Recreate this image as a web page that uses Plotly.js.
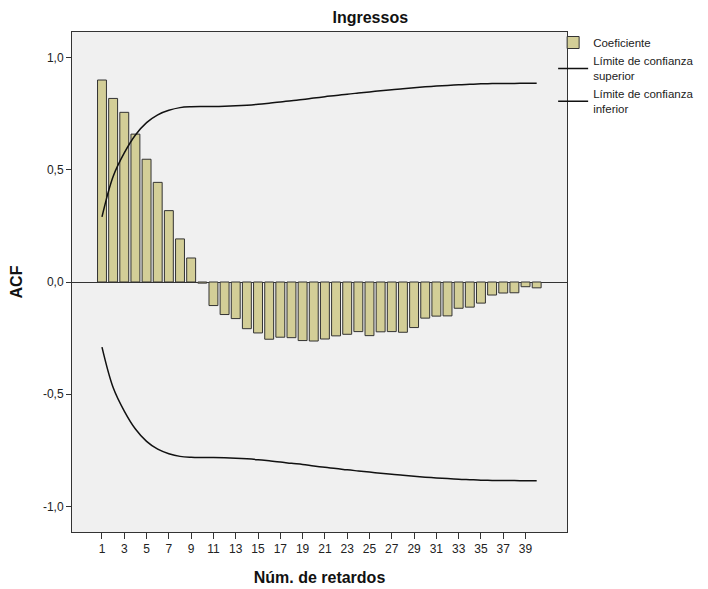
<!DOCTYPE html>
<html>
<head>
<meta charset="utf-8">
<script src="https://cdn.plot.ly/plotly-3.0.1.min.js"></script>
<style>html,body{margin:0;padding:0;background:#fff}#chart{width:708px;height:589px}</style>
</head>
<body>
<div id="chart"></div>
<script>
var lags = [1,2,3,4,5,6,7,8,9,10,11,12,13,14,15,16,17,18,19,20,21,22,23,24,25,26,27,28,29,30,31,32,33,34,35,36,37,38,39,40];
var coeficiente = [0.900,0.818,0.756,0.659,0.547,0.444,0.318,0.192,0.107,-0.005,
  -0.105,-0.145,-0.163,-0.208,-0.227,-0.255,-0.246,-0.248,-0.261,-0.263,
  -0.254,-0.240,-0.233,-0.221,-0.239,-0.222,-0.221,-0.224,-0.203,-0.161,
  -0.152,-0.151,-0.117,-0.112,-0.094,-0.058,-0.049,-0.048,-0.021,-0.026];
var limiteSuperior = [0.290,0.470,0.575,0.655,0.710,0.745,0.765,0.777,0.781,0.782,
  0.782,0.783,0.785,0.788,0.792,0.797,0.802,0.808,0.813,0.820,
  0.826,0.831,0.837,0.842,0.847,0.852,0.857,0.861,0.866,0.870,
  0.873,0.876,0.879,0.881,0.883,0.884,0.885,0.885,0.886,0.886];
var limiteInferior = [-0.290,-0.470,-0.575,-0.655,-0.710,-0.745,-0.765,-0.777,-0.781,-0.782,
  -0.782,-0.783,-0.785,-0.788,-0.792,-0.797,-0.802,-0.808,-0.813,-0.820,
  -0.826,-0.831,-0.837,-0.842,-0.847,-0.852,-0.857,-0.861,-0.866,-0.870,
  -0.873,-0.876,-0.879,-0.881,-0.883,-0.884,-0.885,-0.885,-0.886,-0.886];
var xTicks = [1,3,5,7,9,11,13,15,17,19,21,23,25,27,29,31,33,35,37,39];
var yTicks = [-1,-0.5,0,0.5,1];
var yTickText = ['-1,0','-0,5','0,0','0,5','1,0'];

var font = "'Liberation Sans', Arial, sans-serif";
var narrow = "'Liberation Sans Narrow', 'Arial Narrow', 'Liberation Sans', Arial, sans-serif";

var traces = [
  {type:'bar', x:lags, y:coeficiente, name:'Coeficiente', width:0.8,
   marker:{color:'#d3ce97', line:{color:'#333333', width:1}}},
  {type:'scatter', mode:'lines', x:lags, y:limiteSuperior, name:'Límite de confianza<br>superior',
   line:{color:'#111', width:1.5, shape:'spline'}},
  {type:'scatter', mode:'lines', x:lags, y:limiteInferior, name:'Límite de confianza<br>inferior',
   line:{color:'#111', width:1.5, shape:'spline'}}
];

var layout = {
  width:708, height:589,
  margin:{l:72, r:141, t:32, b:57, autoexpand:false},
  paper_bgcolor:'#ffffff', plot_bgcolor:'#f0f0f0',
  font:{family:font, size:12, color:'#222'},
  title:{text:'<b>Ingressos</b>', font:{family:font, size:16, color:'#111'},
    x:0.523, xanchor:'center', y:0.971, yanchor:'middle'},
  showlegend:true,
  legend:{x:0.972, xanchor:'left', y:1.008, yanchor:'top', bgcolor:'rgba(0,0,0,0)',
    font:{family:font, size:11.5, color:'#222'}, tracegroupgap:0, traceorder:'normal'},
  bargap:0.2,
  xaxis:{range:[-1.69,42.72], tickmode:'array', tickvals:xTicks, ticktext:xTicks.map(String),
    ticks:'outside', ticklen:6, tickcolor:'#333', tickfont:{family:narrow, size:12, color:'#222'},
    showline:true, linecolor:'#333', linewidth:1, mirror:true, showgrid:false, zeroline:false,
    title:{text:'<b>Núm. de retardos</b>', font:{family:font, size:16, color:'#111'}, standoff:16}},
  yaxis:{range:[-1.114,1.114], tickmode:'array', tickvals:yTicks, ticktext:yTickText,
    ticks:'outside', ticklen:5, tickcolor:'#333', tickfont:{family:font, size:12, color:'#222'},
    showline:true, linecolor:'#333', linewidth:1, mirror:true, showgrid:false,
    zeroline:true, zerolinecolor:'#333', zerolinewidth:1,
    title:{text:'<b>ACF</b>', font:{family:font, size:16, color:'#111'}, standoff:16}}
};

Plotly.newPlot('chart', traces, layout, {displayModeBar:false, staticPlot:true});
</script>
</body>
</html>
